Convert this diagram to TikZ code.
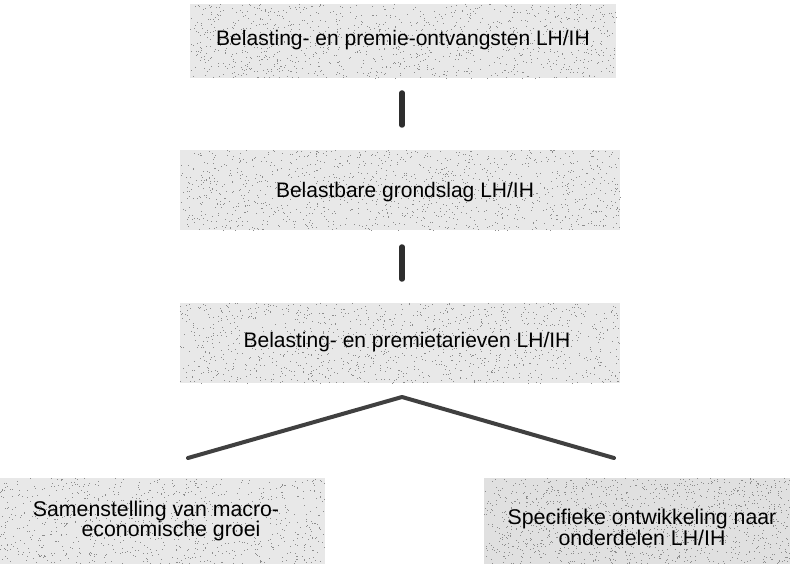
\documentclass[tikz,border=0pt]{standalone}
\usepackage{fontspec}
\setmainfont{Liberation Sans}
\newcommand{\speckle}[5]{% x1 y1 x2 y2 count
  \foreach \k in {1,...,#5}{%
    \pgfmathsetmacro{\sx}{#1+rnd*(#3-#1)}%
    \pgfmathsetmacro{\sy}{#2+rnd*(#4-#2)}%
    \fill[black!45] (\sx,\sy) rectangle ++(1,1);%
  }}
\begin{document}
\begin{tikzpicture}[x=1pt,y=-1pt,
  boxtext/.style={draw=none, inner sep=0pt, font=\fontsize{21}{19.5}\selectfont, align=center},
  lowtext/.style={boxtext, font=\fontsize{21.3}{19.5}\selectfont},
  conn/.style={line width=4pt, draw=black!75, line cap=round, line join=round},
  bar/.style={line width=5.5pt, draw=black!82, line cap=round}]
\pgfmathsetseed{4242}
\useasboundingbox (0,0) rectangle (790,564);
% box backgrounds with speckle texture
\fill[black!9] (190,4) rectangle (616,78);
\speckle{190}{4}{616}{78}{1100}
\fill[black!9] (180,150) rectangle (620,230);
\speckle{180}{150}{620}{230}{1200}
\fill[black!9] (180,303) rectangle (620,383);
\speckle{180}{303}{620}{383}{1200}
\fill[black!9] (0,478) rectangle (325,564);
\speckle{0}{478}{325}{564}{900}
\fill[black!12] (484,478) rectangle (790,564);
\speckle{484}{478}{790}{564}{1300}
% nodes
\node[boxtext, minimum width=426pt, minimum height=74pt] (b1) at (403,40) {Belasting- en premie-ontvangsten LH/IH};
\node[boxtext, minimum width=440pt, minimum height=80pt] (b2) at (405,192) {Belastbare grondslag LH/IH};
\node[boxtext, minimum width=440pt, minimum height=80pt] (b3) at (407,342) {Belasting- en premietarieven LH/IH};
\node[lowtext, minimum width=325pt, minimum height=86pt] (b4) at (156,521) {Samenstelling van macro-\\\hspace*{30pt}economische groei};
\node[lowtext, minimum width=306pt, minimum height=86pt] (b5) at (642,527) {Specifieke ontwikkeling naar\\onderdelen LH/IH};
\coordinate (t1) at (402,93);
\coordinate (u1) at (402,125);
\coordinate (t2) at (402,247);
\coordinate (u2) at (402,279);
\coordinate (apex) at (402,397);
\coordinate (le) at (188,458);
\coordinate (re) at (614,458);
\draw[bar] (t1) -- (u1);
\draw[bar] (t2) -- (u2);
\draw[conn] (le) -- (apex) -- (re);
\end{tikzpicture}
\end{document}
